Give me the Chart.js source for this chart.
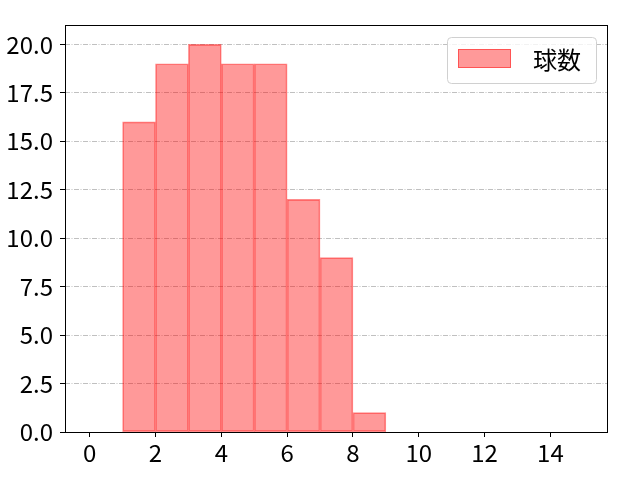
<!DOCTYPE html>
<html>
<head>
<meta charset="utf-8">
<script src="https://cdn.jsdelivr.net/npm/chart.js@4.4.0/dist/chart.umd.min.js"></script>
<style>
html,body{margin:0;padding:0;background:#fff;}
#wrap{width:640px;height:480px;}
</style>
</head>
<body>
<div id="wrap"><canvas id="c" width="640" height="480"></canvas></div>
<script>
// Histogram bins (left edges) and counts
const binStarts = [0,1,2,3,4,5,6,7,8,9,10,11,12,13,14];
const counts    = [0,16,19,20,19,19,12,9,1,0,0,0,0,0,0];
const seriesLabel = '球数';
const xTickValues = [0,2,4,6,8,10,12,14];
const yTickValues = [0,2.5,5,7.5,10,12.5,15,17.5,20];

const FONT = '"Noto Sans CJK JP", "Liberation Sans", sans-serif';

const framePlugin = {
  id: 'frame',
  afterDraw(chart) {
    const {ctx, chartArea: a} = chart;
    ctx.save();
    ctx.strokeStyle = '#000';
    ctx.lineWidth = 1;
    ctx.setLineDash([]);
    ctx.strokeRect(Math.round(a.left) + 0.5, Math.round(a.top) + 0.5,
                   Math.round(a.right - a.left) - 1, Math.round(a.bottom - a.top));
    // legend
    const bx = a.right - 161, by = a.top + 12, bw = 149, bh = 46;
    ctx.beginPath();
    if (ctx.roundRect) ctx.roundRect(bx + 0.5, by + 0.5, bw, bh, 4); else ctx.rect(bx + 0.5, by + 0.5, bw, bh);
    ctx.fillStyle = 'rgba(255,255,255,0.8)';
    ctx.fill();
    ctx.strokeStyle = '#d0d0d0';
    ctx.stroke();
    ctx.fillStyle = 'rgba(255,0,0,0.4)';
    ctx.fillRect(bx + 11, by + 12, 53, 19);
    ctx.strokeStyle = 'rgba(255,0,0,0.45)';
    ctx.strokeRect(bx + 11.5, by + 12.5, 52, 18);
    ctx.fillStyle = '#000';
    ctx.font = '24px ' + FONT;
    ctx.textBaseline = 'middle';
    ctx.textAlign = 'left';
    ctx.fillText(chart.data.datasets[0].label, bx + 86, by + 23);
    ctx.restore();
  }
};

new Chart(document.getElementById('c'), {
  type: 'bar',
  data: {
    datasets: [{
      label: seriesLabel,
      data: binStarts.map((b, i) => ({x: b + 0.5, y: counts[i]})),
      backgroundColor: 'rgba(255,0,0,0.4)',
      borderColor: 'rgba(255,0,0,0.45)',
      borderWidth: 1,
      borderSkipped: false,
      barPercentage: 1,
      categoryPercentage: 1,
      grouped: false
    }]
  },
  options: {
    responsive: false,
    animation: false,
    devicePixelRatio: 1,
    layout: {padding: {left: 0, top: 25, right: 32, bottom: 0}},
    plugins: {legend: {display: false}, tooltip: {enabled: false}},
    scales: {
      x: {
        type: 'linear',
        offset: false,
        min: -0.75,
        max: 15.75,
        afterBuildTicks: s => { s.ticks = xTickValues.map(v => ({value: v})); },
        afterFit: s => { s.height = 48; },
        grid: {display: true, offset: false, drawOnChartArea: false, drawTicks: true,
               tickLength: 5, tickColor: '#000', tickWidth: 1},
        border: {display: false},
        ticks: {color: '#000', font: {family: FONT, size: 24}, padding: 1, maxRotation: 0,
                callback: v => String(v)}
      },
      y: {
        min: 0,
        max: 21,
        afterBuildTicks: s => { s.ticks = yTickValues.map(v => ({value: v})); },
        afterFit: s => { s.width = 65; },
        grid: {color: '#b0b0b0', lineWidth: 0.8, drawTicks: true, tickLength: 5,
               tickColor: '#000', tickWidth: 1, tickBorderDash: []},
        border: {display: false, dash: [5, 1.5, 1, 1.5]},
        ticks: {color: '#000', font: {family: FONT, size: 24}, padding: 7,
                callback: v => Number(v).toFixed(1)}
      }
    }
  },
  plugins: [framePlugin]
});
</script>
</body>
</html>
